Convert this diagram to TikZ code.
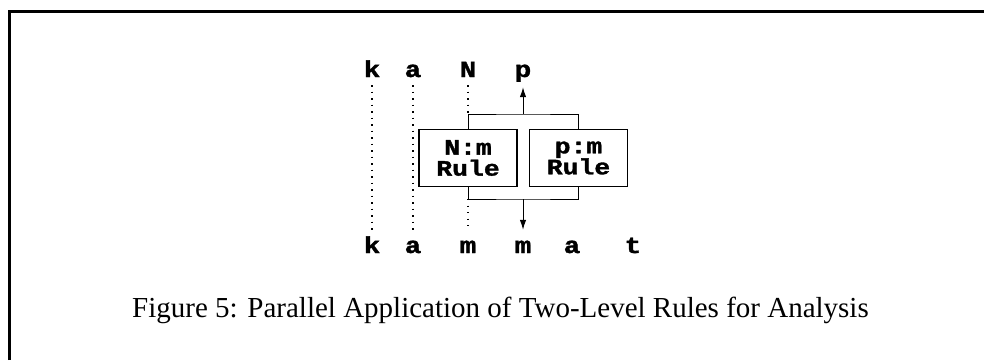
\documentclass[tikz,border=0pt]{standalone}
\usepackage{fontspec}
\setmainfont{Liberation Serif}
\newfontfamily\codefont{Liberation Mono}[FakeStretch=1.2,FakeBold=1.5]
\usetikzlibrary{arrows.meta}

\begin{document}
\begin{tikzpicture}[x=1pt,y=-1pt,
		lett/.style={font=\codefont\bfseries\fontsize{23}{23}\selectfont, inner sep=0pt, text height=16pt, text depth=0pt, anchor=base},
		rulebox/.style={draw, line width=1.1pt, font=\codefont\bfseries\fontsize{22}{21}\selectfont, align=center, minimum width=98pt, minimum height=57pt, inner sep=0pt},
		guide/.style={line width=1.3pt, dash pattern=on 1.3pt off 5.2pt},
		wire/.style={line width=1pt},
		tip/.style={-{Latex[length=10pt,width=6.5pt]}}]
			%%%%% START %%%%%
			
			\useasboundingbox (0,0) rectangle (984,360);
			\draw[line width=3pt] (9.5,360) -- (9.5,11.5) -- (984,11.5);
			
			% upper (lexical) string
			\node[lett] (uk) at (372,77) {k};
			\node[lett] (ua) at (413,77) {a};
			\node[lett] (uN) at (468,77) {N};
			\node[lett] (up) at (523,77) {p};
			
			% lower (surface) string
			\node[lett] (lk) at (372,253) {k};
			\node[lett] (la) at (413,253) {a};
			\node[lett] (lm) at (468,253) {m};
			\node[lett] (lmm) at (523,253) {m};
			\node[lett] (laa) at (572,253) {a};
			\node[lett] (lt) at (633,253) {t};
			
			% the two rules
			\node[rulebox] (ruleN) at (468,158) {N:m\\Rule};
			\node[rulebox] (ruleP) at (578.5,158) {p:m\\Rule};
			
			\coordinate (topj) at (523,114);
			\coordinate (botj) at (523,199);
			
			\draw[wire] (ruleN.north) |- (topj) -| (ruleP.north);
			\draw[wire] (ruleN.south) |- (botj) -| (ruleP.south);
			\draw[wire,tip,shorten >=10pt] (topj) -- (up);
			\draw[wire,tip,shorten >=7pt] (botj) -- (lmm);
			
			\draw[guide,shorten <=8pt,shorten >=7pt] (uk) -- (lk);
			\draw[guide,shorten <=8pt,shorten >=7pt] (ua) -- (la);
			\draw[guide,shorten <=8pt] (uN) -- (ruleN.north |- topj);
			\draw[guide,shorten >=7pt] (ruleN.south |- botj) -- (lm);
			
			\node[anchor=base, font=\fontsize{29}{29}\selectfont] (cap) at (500.5,317) {Figure 5: Parallel Application of Two-Level Rules for Analysis};
			
			%%%%% END %%%%%
\end{tikzpicture}
\end{document}
